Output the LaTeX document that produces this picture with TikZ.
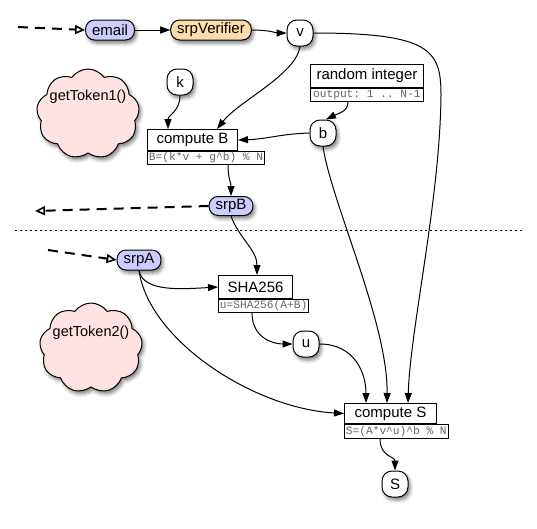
\documentclass[tikz,border=0pt]{standalone}
\usepackage{fontspec}
\setmainfont{Liberation Sans}
\setmonofont{Liberation Mono}
\usetikzlibrary{arrows.meta,shapes.symbols,shadows.blur,positioning}
\definecolor{pillblue}{HTML}{CCCCFF}
\definecolor{pillorange}{HTML}{FFDDAA}
\definecolor{cloudpink}{HTML}{FFE2E2}
\begin{document}
\begin{tikzpicture}[x=1pt,y=-1pt,
  shd/.style={blur shadow={shadow xshift=2pt,shadow yshift=-3pt,shadow blur radius=3.5pt,shadow opacity=50}},
  pill/.style={draw,line width=1pt,rounded corners=9pt,minimum height=20pt,inner xsep=6.5pt,inner ysep=0pt,font=\fontsize{15}{17}\selectfont,shd},
  sq/.style={draw,line width=1pt,fill=white,rounded corners=10pt,minimum width=26pt,minimum height=26pt,inner sep=0pt,font=\fontsize{15}{17}\selectfont,shd},
  titlebox/.style={draw,line width=1pt,fill=white,anchor=north west,inner sep=0pt,font=\fontsize{15}{17}\selectfont},
  subbox/.style={draw,line width=0.8pt,fill=white,anchor=north west,inner xsep=1.5pt,inner ysep=0pt,minimum height=13pt,text=black!60,font=\ttfamily\fontsize{11.2}{12}\selectfont},
  cloudshape/.style={cloud,cloud puffs=9,cloud puff arc=110,aspect=1.1,draw,line width=1pt,fill=cloudpink,minimum width=103pt,minimum height=90pt,inner sep=0pt,shd},
  cloudtext/.style={font=\fontsize{14.5}{16}\selectfont,inner sep=0pt},
  conn/.style={line width=1pt,-{Triangle[length=10pt,width=7pt]}},
  dasharr/.style={line width=2pt,dash pattern=on 10pt off 7pt,-{Triangle[open,length=10pt,width=9pt,line width=1.6pt]}}
]
\useasboundingbox (0,0) rectangle (537,528);

% clouds
\node[cloudshape] (cl1) at (88,114) {};
\node[cloudtext] (t1) at (88,97) {getToken1()};
\node[cloudshape] (cl2) at (91,348) {};
\node[cloudtext] (t2) at (91,333) {getToken2()};

% top row
\node[pill,fill=pillblue] (email) at (110,30) {email};
\node[pill,fill=pillorange] (srpV) at (211,30) {srpVerifier};
\node[sq] (v) at (300,33) {v};
\coordinate (inE) at (18,27);

% random integer
\node[titlebox,minimum width=113pt,minimum height=23pt] (rnd) at (310,64) {random integer};
\node[subbox,minimum width=113pt] (rnds) at (rnd.south west) {output: 1 .. N-1};
\node[sq] (b) at (323,133) {b};
\node[sq] (k) at (180,82) {k};

% compute B
\node[titlebox,minimum width=90pt,minimum height=21pt] (cB) at (147,129) {compute B};
\node[subbox] (cBs) at (cB.south west) {B=(k*v + g\textasciicircum b) \% N};

\node[pill,fill=pillblue,minimum height=19pt] (srpB) at (231,206) {srpB};
\coordinate (outB) at (35,211);

% divider
\coordinate (d1) at (15,230);
\coordinate (d2) at (525,230);
\draw[line width=1pt,dash pattern=on 1.5pt off 3.5pt] (d1) -- (d2);

\node[pill,fill=pillblue] (srpA) at (139,260) {srpA};
\coordinate (inA) at (48,250);

% SHA256
\node[titlebox,minimum width=74pt,minimum height=23pt] (sha) at (218,275) {SHA256};
\node[subbox] (shas) at (sha.south west) {u=SHA256(A+B)};
\node[sq] (u) at (306,344) {u};

% compute S
\node[titlebox,minimum width=92pt,minimum height=20pt] (cS) at (344,403) {compute S};
\node[subbox,minimum height=14pt] (cSs) at (cS.south west) {S=(A*v\textasciicircum u)\textasciicircum b \% N};
\node[sq] (S) at (395,484) {S};

% connectors
\draw[dasharr] (inE) -- (email.west);
\draw[conn] (email.east) -- (srpV.west);
\draw[conn] (srpV.east) .. controls +(18,0) and +(-10,0) .. (v.west);
\draw[conn] (v.east) .. controls (430,33) and (441,50) .. (441,95) .. controls (440,200) and (410,330) .. ([xshift=64pt]cS.north west);
\draw[conn] (v.south) .. controls +(-4,28) and +(22,-28) .. ([xshift=70pt]cB.north west);
\draw[conn] (k.south) .. controls +(0,16) and +(0,-14) .. ([xshift=21pt]cB.north west);
\draw[conn] ([xshift=38pt]rnds.south west) .. controls +(0,10) and +(12,-6) .. ([xshift=3pt]b.north);
\draw[conn] (b.west) .. controls +(-30,1) and +(30,-1) .. (cB.east);
\draw[conn] (b.south) .. controls +(8,55) and +(1,-80) .. ([xshift=43pt]cS.north west);
\draw[conn] ([xshift=81pt]cBs.south west) .. controls +(0,14) and +(0,-14) .. (srpB.north);
\draw[dasharr] (srpB.west) -- (outB);
\draw[conn] (srpB.south) .. controls +(8,22) and +(0,-25) .. ([xshift=39pt]sha.north west);
\draw[dasharr] (inA) -- (srpA.west);
\draw[conn] (srpA.south) .. controls +(4,22) and +(-35,2) .. (sha.west);
\draw[conn] (srpA.south) .. controls +(10,70) and +(-90,-5) .. (cS.west);
\draw[conn] ([xshift=34pt]shas.south west) .. controls +(0,28) and +(-15,0) .. (u.west);
\draw[conn] (u.east) .. controls +(35,0) and +(0,-30) .. ([xshift=22pt]cS.north west);
\draw[conn] ([xshift=36pt]cSs.south west) .. controls +(0,18) and +(0,-14) .. (S.north);
\end{tikzpicture}
\end{document}
